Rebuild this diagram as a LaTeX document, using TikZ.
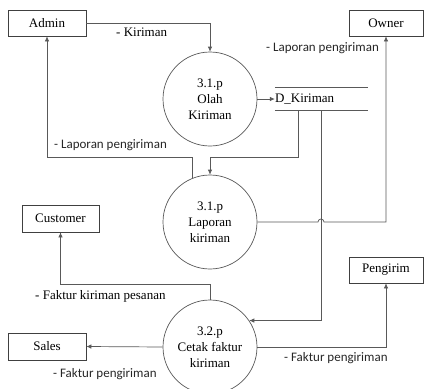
\documentclass[tikz,border=0pt]{standalone}
\usepackage{fontspec}
\setmainfont{Liberation Serif}
\newfontfamily\labelsans{Carlito}
\usetikzlibrary{arrows.meta}
\begin{document}
\begin{tikzpicture}[x=1pt,y=-1pt,
  line/.style={draw=black!65, line width=0.7pt},
  flow/.style={line, -{Latex[length=5pt,width=4.5pt]}},
  ent/.style={draw=black!75, line width=0.7pt, minimum height=26pt, inner sep=0pt, font=\fontsize{13}{16}\selectfont},
  proc/.style={circle, draw=black!65, line width=0.7pt, minimum size=94pt, inner sep=0pt, align=center, font=\fontsize{13}{16}\selectfont},
  lbls/.style={font=\labelsans\fontsize{13}{16}\selectfont, anchor=west, inner sep=0pt, text=black!85},
  lblr/.style={font=\fontsize{13}{16}\selectfont, anchor=west, inner sep=0pt}]
\useasboundingbox (0,0) rectangle (424,389);
\clip (0,0) rectangle (424,389);

% entities
\node[ent, minimum width=78pt] (admin) at (47,23) {Admin};
\node[ent, minimum width=74pt] (owner) at (386,23) {Owner};
\node[ent, minimum width=77pt, minimum height=27pt] (cust) at (60.5,218.5) {Customer};
\node[ent, minimum width=78pt, minimum height=27pt] (sales) at (47,346.5) {Sales};
\node[ent, minimum width=74pt] (peng) at (386,270) {Pengirim};

% processes
\node[proc] (olah) at (210,99) {3.1.p\\Olah\\Kiriman};
\node[proc] (lap) at (210,222) {3.1.p\\Laporan\\kiriman};
\node[proc] (cet) at (210,347) {3.2.p\\Cetak faktur\\kiriman};

% data store
\node[minimum width=93pt, minimum height=22pt, inner sep=0pt, text width=93pt, align=left,
      font=\fontsize{13}{16}\selectfont] (store) at (321.5,99) {D\_Kiriman};
\draw[line] (store.north west) -- (store.north east);
\draw[line] (store.south west) -- (store.south east);

\coordinate (s1) at (298,110);
\coordinate (s2) at (321,110);
\coordinate (j1) at (210,157);
\coordinate (j2) at (47,157);

% flows
\draw[flow] (admin.east) -| (olah.north);
\draw[flow] (olah.east) -- (store.west);
\draw[flow] (s1) |- (j1) -- (lap.north);
\draw[flow] (lap.112.5) |- (j2) -- (admin.south);
\draw[flow] (lap.east) -- (318,222) arc[start angle=180, end angle=0, radius=3pt] -| (owner.south);
\draw[flow] (s2) |- (cet.34);
\draw[flow] (cet.north) -- ++(0,-15) -| (cust.south);
\draw[flow] (cet.west) -- (sales.east);
\draw[flow] (cet.east) -| (peng.south);

% labels
\node[lblr] (l1) at (116,32) {- Kiriman};
\node[lbls] (l2) at (266,48) {- Laporan pengiriman};
\node[lbls] (l3) at (54,145) {- Laporan pengiriman};
\node[lblr] (l4) at (35,296) {- Faktur kiriman pesanan};
\node[lbls] (l5) at (53,374) {- Faktur pengiriman};
\node[lbls] (l6) at (284,358) {- Faktur pengiriman};
\end{tikzpicture}
\end{document}
